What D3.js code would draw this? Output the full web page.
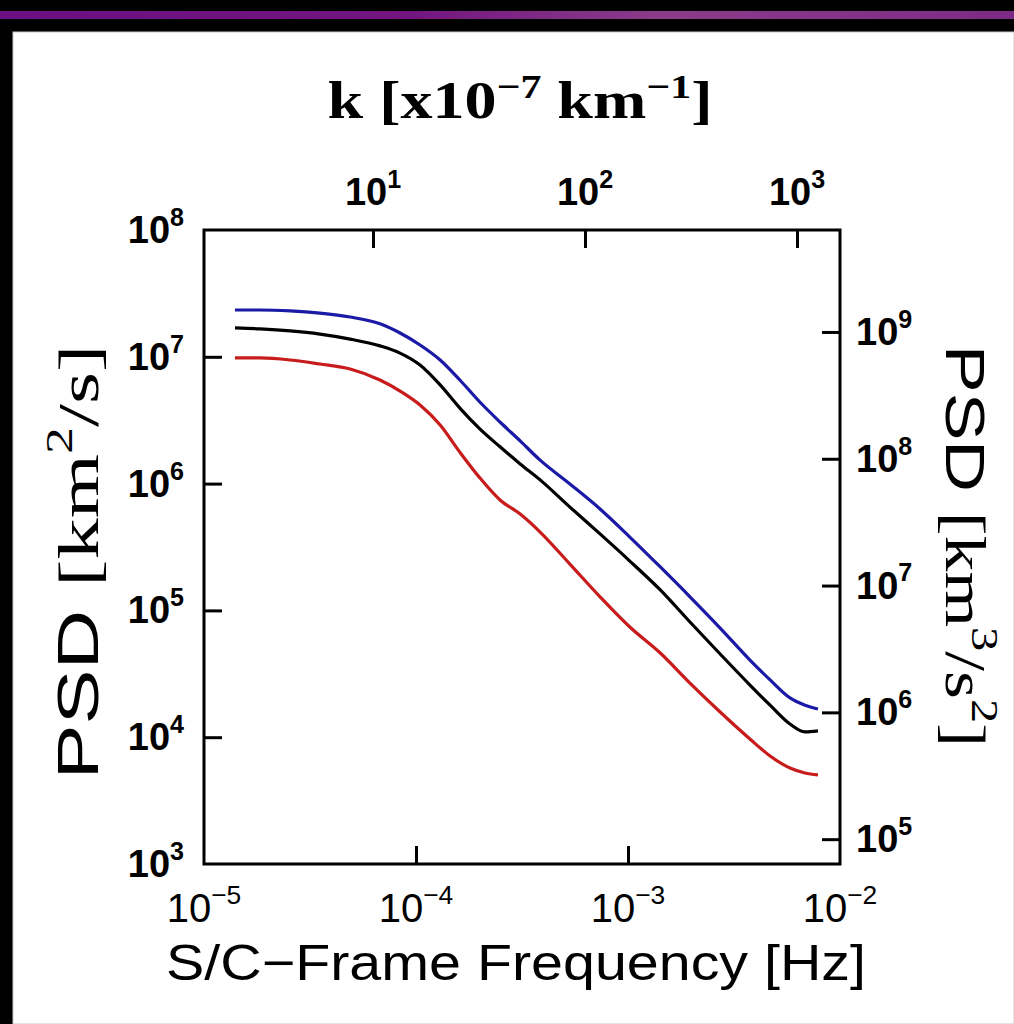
<!DOCTYPE html>
<html>
<head>
<meta charset="utf-8">
<script src="https://cdn.jsdelivr.net/npm/d3@7"></script>
<style>
  body { margin: 0; background: #000; }
</style>
</head>
<body>
<svg id="chart" width="1014" height="1024"></svg>
<script>
// S/C-frame frequency [Hz]
var freq = [1.40e-5, 1.84e-5, 2.55e-5, 3.52e-5, 4.89e-5, 6.76e-5, 8.41e-5, 1.045e-4, 1.30e-4, 1.61e-4,
            2.00e-4, 2.49e-4, 3.10e-4, 3.85e-4, 5.32e-4, 7.38e-4, 1.02e-3, 1.42e-3, 1.96e-3, 2.72e-3,
            3.76e-3, 4.68e-3, 5.81e-3, 6.84e-3, 7.87e-3];
// PSD [km^2/s]
var psdBlue  = [2.34e7, 2.34e7, 2.30e7, 2.21e7, 2.06e7, 1.82e7, 1.54e7, 1.24e7, 9.44e6, 6.56e6,
                4.40e6, 3.06e6, 2.17e6, 1.53e6, 9.93e5, 6.31e5, 3.79e5, 2.20e5, 1.28e5, 7.26e4,
                4.06e4, 2.83e4, 2.04e4, 1.79e4, 1.67e4];
var psdBlack = [1.69e7, 1.66e7, 1.60e7, 1.51e7, 1.38e7, 1.22e7, 1.07e7, 8.61e6, 6.00e6, 3.94e6,
                2.70e6, 1.95e6, 1.43e6, 1.07e6, 6.53e5, 4.01e5, 2.45e5, 1.45e5, 8.10e4, 4.53e4,
                2.58e4, 1.79e4, 1.27e4, 1.10e4, 1.12e4];
var psdRed   = [9.79e6, 9.79e6, 9.44e6, 8.77e6, 8.01e6, 6.56e6, 5.37e6, 4.17e6, 2.90e6, 1.77e6,
                1.11e6, 7.43e5, 5.75e5, 4.15e5, 2.32e5, 1.28e5, 7.40e4, 4.61e4, 2.67e4, 1.58e4,
                9.68e3, 7.11e3, 5.71e3, 5.22e3, 5.04e3];

var seriesColors = ['#1a1aa6', '#000000', '#c81c1c'];

// axis tick exponents
var bottomExp = [-5, -4, -3, -2];
var leftExp = [3, 4, 5, 6, 7, 8];
var rightExp = [5, 6, 7, 8, 9];
var topExp = [1, 2, 3];

// conversions between the paired axes
var kPerHz = 1.595e5;    // k [x1e-7 km^-1] per Hz
var rightPerLeft = 63.7; // km^3/s^2 per km^2/s

var svg = d3.select('#chart');

var defs = svg.append('defs');
var grad = defs.append('linearGradient').attr('id', 'stripe');
grad.append('stop').attr('offset', '0%').attr('stop-color', '#6a1082');
grad.append('stop').attr('offset', '40%').attr('stop-color', '#72157f');
grad.append('stop').attr('offset', '65%').attr('stop-color', '#8a3c8a');
grad.append('stop').attr('offset', '100%').attr('stop-color', '#7e2a86');

svg.append('rect').attr('width', 1014).attr('height', 1024).attr('fill', '#000');
svg.append('rect').attr('x', 0).attr('y', 11).attr('width', 1014).attr('height', 8).attr('fill', 'url(#stripe)');
svg.append('rect').attr('x', 13).attr('y', 32).attr('width', 1001).attr('height', 992)
    .attr('fill', '#fff').attr('stroke', '#c8c8c8').attr('stroke-width', 1);

var plotL = 204, plotR = 840, plotT = 230, plotB = 864;

var x = d3.scaleLog().domain([1e-5, 1e-2]).range([plotL, plotR]);
var y = d3.scaleLog().domain([1e3, 1e8]).range([plotB, plotT]);
var yR = d3.scaleLog().domain([1e3 * rightPerLeft, 1e8 * rightPerLeft]).range([plotB, plotT]);
var xTop = d3.scaleLog().domain([1e-5 * kPerHz, 1e-2 * kPerHz]).range([plotL, plotR]);

var tickLen = 18;

function styleAxis(g) {
    g.select('.domain').remove();
    g.selectAll('.tick line').attr('stroke', '#000').attr('stroke-width', 3);
    g.selectAll('.tick text').remove();
}

svg.append('g').attr('transform', `translate(0,${plotB})`)
    .call(d3.axisBottom(x).tickValues([1e-4, 1e-3]).tickSize(-tickLen).tickSizeOuter(0))
    .call(styleAxis);
svg.append('g').attr('transform', `translate(${plotL},0)`)
    .call(d3.axisLeft(y).tickValues([1e4, 1e5, 1e6, 1e7]).tickSize(-tickLen).tickSizeOuter(0))
    .call(styleAxis);
svg.append('g').attr('transform', `translate(${plotR},0)`)
    .call(d3.axisRight(yR).tickValues(rightExp.map(e => Math.pow(10, e))).tickSize(-tickLen).tickSizeOuter(0))
    .call(styleAxis);
svg.append('g').attr('transform', `translate(0,${plotT})`)
    .call(d3.axisTop(xTop).tickValues(topExp.map(e => Math.pow(10, e))).tickSize(-tickLen).tickSizeOuter(0))
    .call(styleAxis);

// curves
var line = d3.line()
    .x(d => x(d[0]))
    .y(d => y(d[1]))
    .curve(d3.curveMonotoneX);

[psdBlue, psdBlack, psdRed].forEach((vals, i) => {
    svg.append('path')
        .datum(freq.map((f, j) => [f, vals[j]]))
        .attr('d', line)
        .attr('fill', 'none')
        .attr('stroke', seriesColors[i])
        .attr('stroke-width', 3.2)
        .attr('stroke-linejoin', 'round');
});

// frame
svg.append('rect')
    .attr('x', plotL).attr('y', plotT)
    .attr('width', plotR - plotL).attr('height', plotB - plotT)
    .attr('fill', 'none').attr('stroke', '#000').attr('stroke-width', 3);

var sans = "'Liberation Sans', Arial, sans-serif";
var serif = "'Liberation Serif', 'Times New Roman', serif";

function powLabel(px, py, e, anchor, weight, size) {
    var t = svg.append('text')
        .attr('x', px).attr('y', py)
        .attr('text-anchor', anchor)
        .attr('font-family', sans)
        .attr('font-weight', weight)
        .attr('font-size', size)
        .attr('fill', '#000');
    t.append('tspan').text('10');
    t.append('tspan').attr('font-size', size * 0.66).attr('dy', -size * 0.45)
        .text(e < 0 ? '\u2212' + (-e) : String(e));
    return t;
}

bottomExp.forEach(e => powLabel(x(Math.pow(10, e)), 922, e, 'middle', 'normal', 40));
topExp.forEach(e => powLabel(xTop(Math.pow(10, e)), 205, e, 'middle', 'bold', 38));
leftExp.forEach(e => powLabel(184, y(Math.pow(10, e)) + 13, e, 'end', 'bold', 38));
rightExp.forEach(e => powLabel(856, yR(Math.pow(10, e)) + 13, e, 'start', 'bold', 38));

// x label
svg.append('text')
    .attr('x', 516).attr('y', 980)
    .attr('text-anchor', 'middle')
    .attr('font-family', sans)
    .attr('font-size', 50)
    .attr('textLength', 700)
    .attr('lengthAdjust', 'spacingAndGlyphs')
    .text('S/C\u2212Frame Frequency [Hz]');

// top title
var title = svg.append('text')
    .attr('x', 520).attr('y', 118)
    .attr('text-anchor', 'middle')
    .attr('font-family', serif)
    .attr('font-weight', 'bold')
    .attr('font-size', 52)
    .attr('textLength', 385)
    .attr('lengthAdjust', 'spacingAndGlyphs');
title.append('tspan').text('k [x10');
title.append('tspan').attr('font-size', 34).attr('dy', -20).text('\u22127');
title.append('tspan').attr('dy', 20).text(' km');
title.append('tspan').attr('font-size', 34).attr('dy', -20).text('\u22121');
title.append('tspan').attr('dy', 20).text(']');

// left y label
var yl = svg.append('text')
    .attr('transform', 'translate(98,562) rotate(-90)')
    .attr('text-anchor', 'middle')
    .attr('font-size', 58)
    .attr('textLength', 435)
    .attr('lengthAdjust', 'spacingAndGlyphs');
yl.append('tspan').attr('font-family', sans).text('PSD ');
yl.append('tspan').attr('font-family', serif).text('[km');
yl.append('tspan').attr('font-family', serif).attr('font-size', 38).attr('dy', -26).text('2');
yl.append('tspan').attr('font-family', serif).attr('dy', 26).text('/s]');

// right y label
var yr = svg.append('text')
    .attr('transform', 'translate(946,546) rotate(90)')
    .attr('text-anchor', 'middle')
    .attr('font-size', 56)
    .attr('textLength', 402)
    .attr('lengthAdjust', 'spacingAndGlyphs');
yr.append('tspan').attr('font-family', sans).text('PSD ');
yr.append('tspan').attr('font-family', serif).text('[km');
yr.append('tspan').attr('font-family', serif).attr('font-size', 38).attr('dy', -26).text('3');
yr.append('tspan').attr('font-family', serif).attr('dy', 26).text('/s');
yr.append('tspan').attr('font-family', serif).attr('font-size', 38).attr('dy', -26).text('2');
yr.append('tspan').attr('font-family', serif).attr('dy', 26).text(']');
</script>
</body>
</html>
